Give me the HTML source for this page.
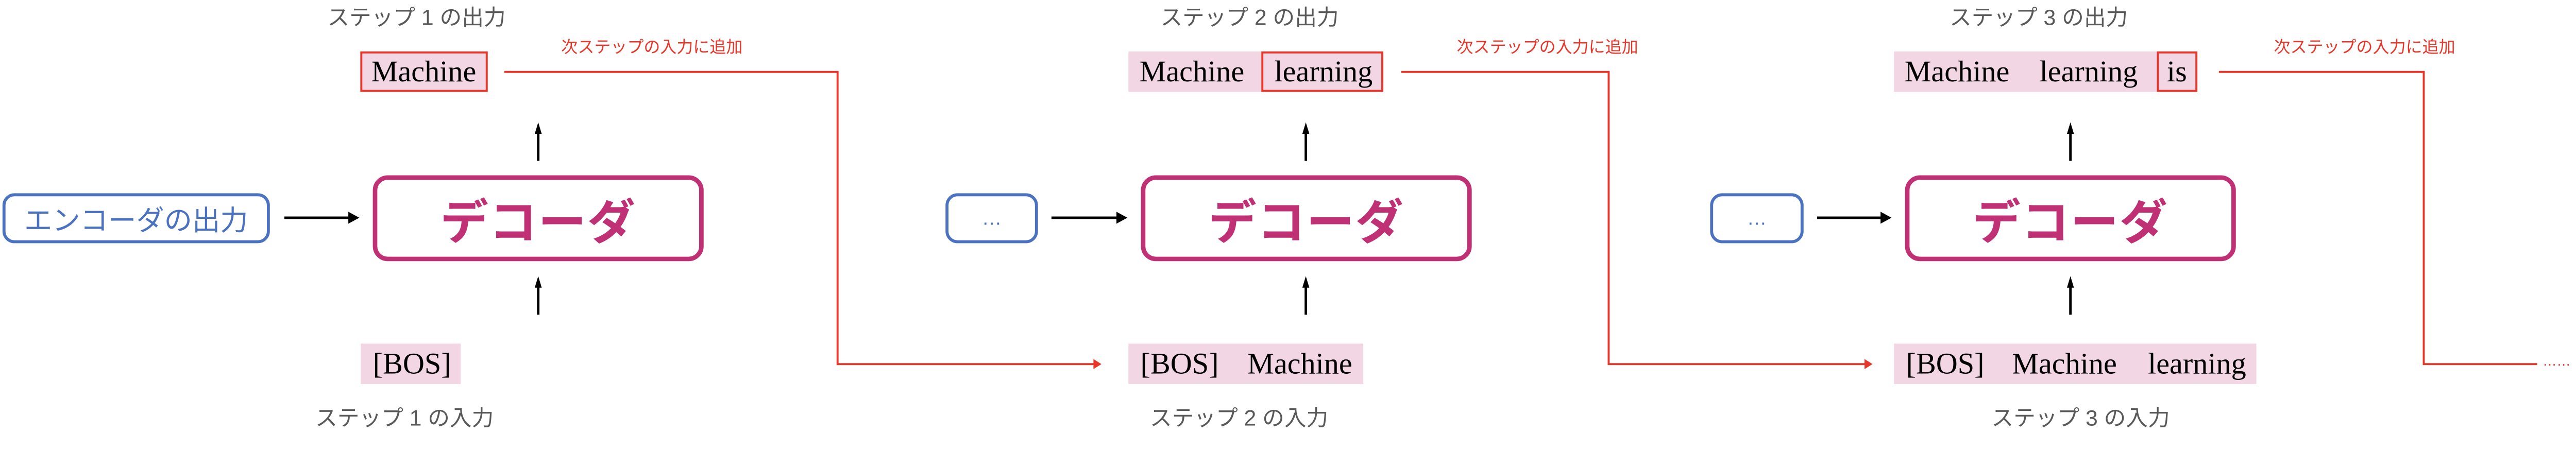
<!DOCTYPE html>
<html><head><meta charset="utf-8"><style>
body{margin:0;width:5166px;height:874px;background:#fff;position:relative;overflow:hidden}
#root{position:absolute;left:0;top:0;width:5330px;height:900px;transform:scale(0.97);transform-origin:0 0}
.a{position:absolute}
.lbl{position:absolute;font-family:"Liberation Sans","Noto Sans CJK JP",sans-serif;font-size:44px;color:#595959;white-space:nowrap;line-height:44px}
.red{position:absolute;font-family:"Liberation Sans","Noto Sans CJK JP",sans-serif;font-size:33px;color:#e8362a;white-space:nowrap;line-height:34px}
.pink{position:absolute;background:#f3d6e4;height:81px}
.w{position:absolute;font-family:"Liberation Serif",serif;font-size:60px;line-height:81px;color:#000;white-space:nowrap}
.rb{position:absolute;border:4px solid #e8362a;box-sizing:border-box;height:81px}
.dec{position:absolute;top:351px;height:172px;width:662px;border:9px solid #c03074;border-radius:30px;box-sizing:border-box;display:flex;align-items:center;justify-content:center;font-family:"Noto Sans CJK JP",sans-serif;font-weight:bold;font-size:96px;color:#c03074;letter-spacing:2px}
.enc{position:absolute;top:387px;height:100px;border:6px solid #4a72c0;border-radius:24px;box-sizing:border-box;display:flex;align-items:center;justify-content:center;font-family:"Liberation Sans","Noto Sans CJK JP",sans-serif;font-size:56px;color:#4a72c0}
</style></head><body><div id="root">
<svg class="a" style="left:0;top:0" width="5330" height="900">
<g stroke="#e8362a" stroke-width="4" fill="none">
<polyline points="1009,144 1676,144 1676,729 2190,729"/>
<polyline points="2804,144 3219,144 3219,729 3733,729"/>
<polyline points="4440,144 4850,144 4850,729 5077,729"/>
</g>
<g fill="#e8362a">
<path d="M2188,719 L2204,729 L2188,739z"/>
<path d="M3731,719 L3747,729 L3731,739z"/>
</g>
<g stroke="#000" stroke-width="5">
<line x1="1077" y1="322" x2="1077" y2="262"/><line x1="1077" y1="630" x2="1077" y2="570"/>
<line x1="2613" y1="322" x2="2613" y2="262"/><line x1="2613" y1="630" x2="2613" y2="570"/>
<line x1="4143" y1="322" x2="4143" y2="262"/><line x1="4143" y1="630" x2="4143" y2="570"/>
<line x1="569" y1="436" x2="700" y2="436"/>
<line x1="2104" y1="436" x2="2237" y2="436"/>
<line x1="3636" y1="436" x2="3766" y2="436"/>
</g>
<g fill="#000">
<path d="M1070,268 L1077,245 L1084,268z"/><path d="M1070,576 L1077,553 L1084,576z"/>
<path d="M2606,268 L2613,245 L2620,268z"/><path d="M2606,576 L2613,553 L2620,576z"/>
<path d="M4136,268 L4143,245 L4150,268z"/><path d="M4136,576 L4143,553 L4150,576z"/>
<path d="M697,424 L719,436 L697,448z"/>
<path d="M2234,424 L2256,436 L2234,448z"/>
<path d="M3763,424 L3785,436 L3763,448z"/>
</g>
</svg>

<div class="lbl" style="left:655px;top:14px">ステップ 1 の出力</div>
<div class="red" style="left:1123px;top:77px">次ステップの入力に追加</div>
<div class="pink" style="left:721px;top:103px;width:255px"></div>
<div class="rb" style="left:721px;top:103px;width:255px"></div>
<div class="w" style="left:743px;top:103px">Machine</div>
<div class="enc" style="left:5px;width:535px">エンコーダの出力</div>
<div class="dec" style="left:746px">デコーダ</div>
<div class="pink" style="left:722px;top:688px;width:200px"></div>
<div class="w" style="left:746px;top:688px">[BOS]</div>
<div class="lbl" style="left:631px;top:816px">ステップ 1 の入力</div>

<div class="lbl" style="left:2322px;top:14px">ステップ 2 の出力</div>
<div class="red" style="left:2915px;top:77px">次ステップの入力に追加</div>
<div class="pink" style="left:2258px;top:103px;width:510px"></div>
<div class="rb" style="left:2524px;top:103px;width:244px"></div>
<div class="w" style="left:2280px;top:103px">Machine</div>
<div class="w" style="left:2550px;top:103px">learning</div>
<div class="enc" style="left:1892px;width:185px;font-size:40px">…</div>
<div class="dec" style="left:2283px">デコーダ</div>
<div class="pink" style="left:2258px;top:688px;width:470px"></div>
<div class="w" style="left:2282px;top:688px">[BOS]</div>
<div class="w" style="left:2496px;top:688px">Machine</div>
<div class="lbl" style="left:2301px;top:816px">ステップ 2 の入力</div>

<div class="lbl" style="left:3901px;top:14px">ステップ 3 の出力</div>
<div class="red" style="left:4550px;top:77px">次ステップの入力に追加</div>
<div class="pink" style="left:3790px;top:103px;width:607px"></div>
<div class="rb" style="left:4316px;top:103px;width:81px"></div>
<div class="w" style="left:3811px;top:103px">Machine</div>
<div class="w" style="left:4081px;top:103px">learning</div>
<div class="w" style="left:4336px;top:103px">is</div>
<div class="enc" style="left:3422px;width:187px;font-size:40px">…</div>
<div class="dec" style="left:3812px">デコーダ</div>
<div class="pink" style="left:3790px;top:688px;width:725px"></div>
<div class="w" style="left:3814px;top:688px">[BOS]</div>
<div class="w" style="left:4026px;top:688px">Machine</div>
<div class="w" style="left:4298px;top:688px">learning</div>
<div class="lbl" style="left:3985px;top:816px">ステップ 3 の入力</div>
<div class="red" style="left:5088px;top:706px;font-size:28px">……</div>
</div></body></html>
